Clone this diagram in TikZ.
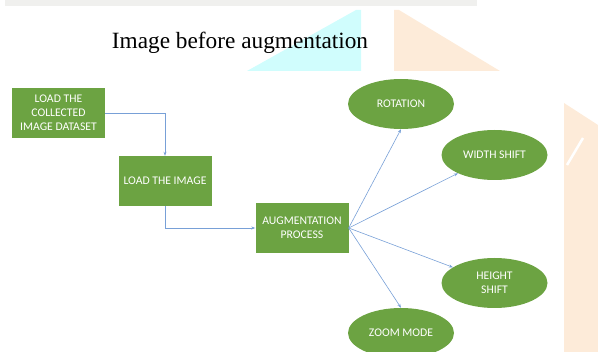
\documentclass[tikz,border=0pt]{standalone}
\usepackage{fontspec}
\setmainfont{Liberation Serif}
\newfontfamily\boxfont{Carlito}
\usetikzlibrary{arrows.meta, shapes.geometric, positioning}
\definecolor{zgreen}{RGB}{108, 163, 66}
\definecolor{zarrow}{RGB}{120, 160, 215}
\definecolor{zcyan}{RGB}{208, 253, 253}
\definecolor{zpeach}{RGB}{253, 235, 217}
\definecolor{zstrip}{RGB}{240, 240, 238}

\begin{document}
\begin{tikzpicture}[
  x=1pt, y=-1pt,
  every node/.style={inner sep=2pt},
  stage/.style={rectangle, fill=zgreen, text=white,
                font=\boxfont\fontsize{11.7}{14}\selectfont,
                minimum width=93pt, minimum height=50pt, align=center},
  option/.style={ellipse, fill=zgreen, text=white,
                 font=\boxfont\fontsize{11.7}{14}\selectfont,
                 minimum width=106pt, minimum height=50pt, align=center},
  fwd/.style={-{Stealth[length=4pt, width=3pt]}, draw=zarrow, line width=0.6pt}
]
\clip (0,0) rectangle (598,352);

% Page decorations
\fill[zstrip] (5,0) rectangle (477,6);
\fill[zcyan]  (247,71) -- (356,10) -- (361,10) -- (361,71) -- cycle;
\fill[zpeach] (394,10) -- (399,10) -- (500,71) -- (394,71) -- cycle;
\fill[zpeach] (564,103) -- (598,125) -- (598,352) -- (564,352) -- cycle;
\draw[white, line width=2.5pt] (567,165) -- (583,138);

% Title
\node[font=\fontsize{23.3}{27}\selectfont, anchor=base] (title) at (240,49)
  {Image before augmentation};

% Stages
\node[stage] (load) at (58.5,113)  {LOAD THE\\COLLECTED\\IMAGE DATASET};
\node[stage] (img)  at (165,181)   {LOAD THE IMAGE};
\node[stage] (aug)  at (302,228)   {AUGMENTATION\\PROCESS};

% Augmentation options
\node[option] (rot)  at (401,104) {ROTATION};
\node[option] (wsh)  at (494.5,155) {WIDTH SHIFT};
\node[option] (hsh)  at (494.5,283) {HEIGHT\\SHIFT};
\node[option] (zoom) at (401,333) {ZOOM MODE};

% Flow
\draw[fwd] (load.east) -| (img.north);
\draw[fwd] (img.south) |- (aug.west);

\draw[fwd] (aug.east) -- (rot.south);
\draw[fwd] (aug.east) -- (wsh);
\draw[fwd] (aug.east) -- (hsh);
\draw[fwd] (aug.east) -- (zoom.north);

\end{tikzpicture}
\end{document}
